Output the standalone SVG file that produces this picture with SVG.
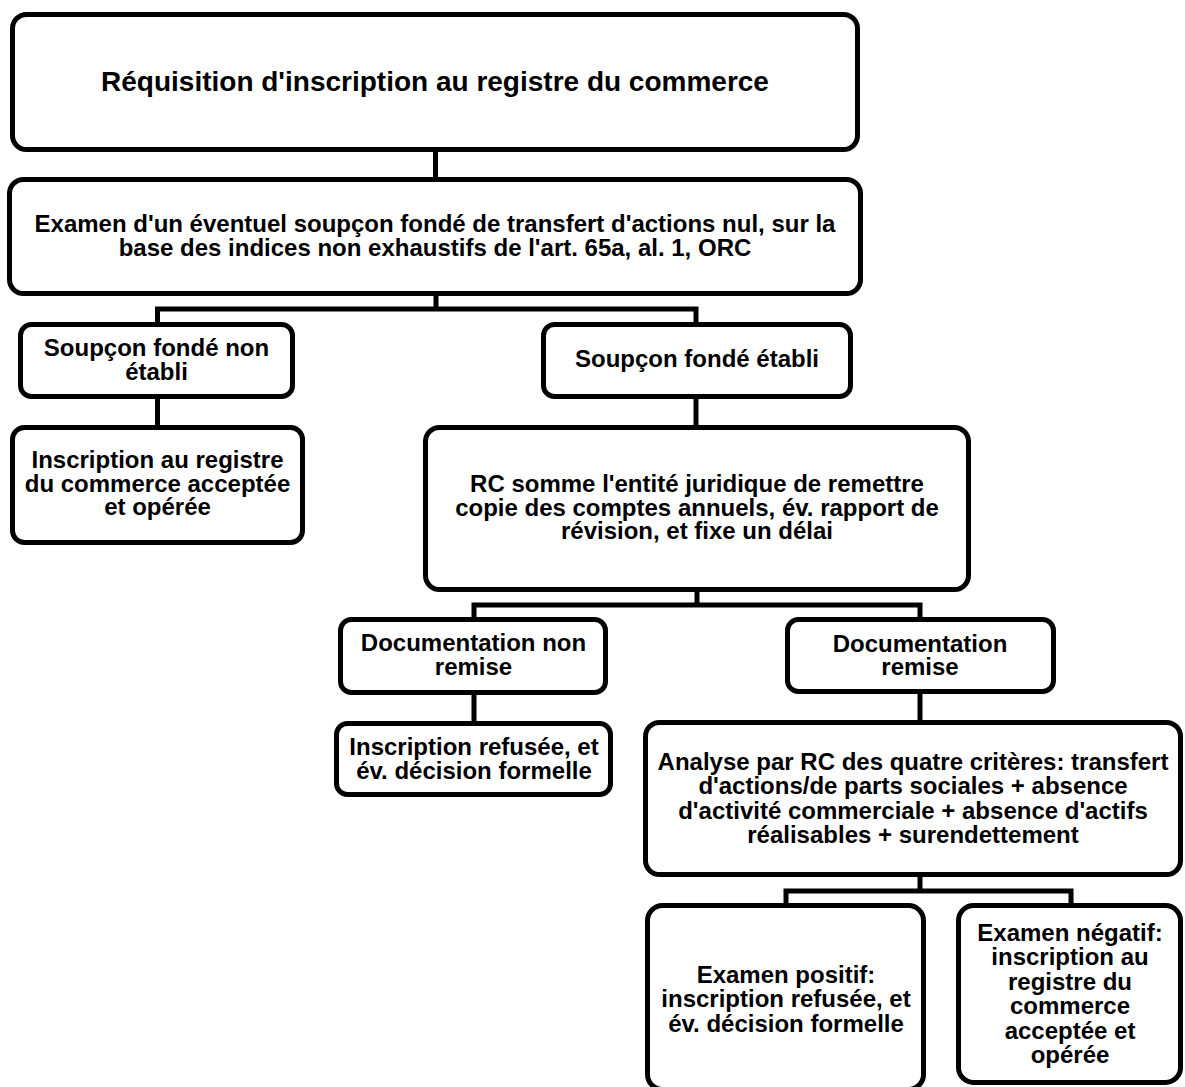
<svg xmlns="http://www.w3.org/2000/svg" width="1185" height="1087" viewBox="0 0 1185 1087">
  <style>
    .box { fill: #ffffff; stroke: #000000; stroke-width: 5; }
    .link { fill: none; stroke: #000000; stroke-width: 5; stroke-linejoin: miter; }
    .t { font-family: "Liberation Sans", Arial, Helvetica, sans-serif; font-weight: bold; font-size: 24px; fill: #000000; text-anchor: middle; }
    .title { font-size: 28px; }
  </style>
  <rect width="1185" height="1087" fill="#ffffff"/>

  <!-- tree connectors (drawn first, boxes sit on top) -->
  <g id="connectors">
    <path class="link" d="M435.5,150 V180"/>
    <path class="link" d="M436,294 V309"/>
    <path class="link" d="M157.5,324 V309 H696 V324"/>
    <path class="link" d="M157.5,397 V428"/>
    <path class="link" d="M696,397 V428"/>
    <path class="link" d="M697,590 V605"/>
    <path class="link" d="M474,620 V605 H920 V620"/>
    <path class="link" d="M474,693 V724"/>
    <path class="link" d="M920,692 V723"/>
    <path class="link" d="M920,875 V891"/>
    <path class="link" d="M786,905 V891 H1071 V905"/>
  </g>

  <g id="requisition">
    <rect class="box" x="12.5" y="14.5" width="845" height="135" rx="14"/>
    <text class="t title" x="435" y="91">Réquisition d'inscription au registre du commerce</text>
  </g>

  <g id="examen-soupcon">
    <rect class="box" x="9.5" y="179.5" width="851" height="114" rx="14"/>
    <text class="t" x="435" y="232">Examen d'un éventuel soupçon fondé de transfert d'actions nul, sur la</text>
    <text class="t" x="435" y="256">base des indices non exhaustifs de l'art. 65a, al. 1, ORC</text>
  </g>

  <g id="soupcon-non-etabli">
    <rect class="box" x="20.5" y="324.5" width="272" height="72" rx="11"/>
    <text class="t" x="156.5" y="356">Soupçon fondé non</text>
    <text class="t" x="156.5" y="379.5">établi</text>
  </g>

  <g id="soupcon-etabli">
    <rect class="box" x="543.5" y="324.5" width="307" height="72" rx="11"/>
    <text class="t" x="697" y="367">Soupçon fondé établi</text>
  </g>

  <g id="inscription-acceptee">
    <rect class="box" x="12.5" y="427.5" width="290" height="115" rx="12"/>
    <text class="t" x="157.5" y="468">Inscription au registre</text>
    <text class="t" x="157.5" y="491.7">du commerce acceptée</text>
    <text class="t" x="157.5" y="515.4">et opérée</text>
  </g>

  <g id="sommation-rc">
    <rect class="box" x="425.5" y="427.5" width="543" height="162" rx="14"/>
    <text class="t" x="697" y="492">RC somme l'entité juridique de remettre</text>
    <text class="t" x="697" y="515.5">copie des comptes annuels, év. rapport de</text>
    <text class="t" x="697" y="539">révision, et fixe un délai</text>
  </g>

  <g id="documentation-non-remise">
    <rect class="box" x="340.5" y="619.5" width="265" height="73" rx="11"/>
    <text class="t" x="473.5" y="651">Documentation non</text>
    <text class="t" x="473.5" y="675">remise</text>
  </g>

  <g id="documentation-remise">
    <rect class="box" x="787.5" y="619.5" width="266" height="72" rx="11"/>
    <text class="t" x="920" y="651.5">Documentation</text>
    <text class="t" x="920" y="675">remise</text>
  </g>

  <g id="inscription-refusee">
    <rect class="box" x="336.5" y="723.5" width="274" height="71" rx="11"/>
    <text class="t" x="474" y="755">Inscription refusée, et</text>
    <text class="t" x="474" y="778.5">év. décision formelle</text>
  </g>

  <g id="analyse-criteres">
    <rect class="box" x="645.5" y="722.5" width="535" height="152" rx="14"/>
    <text class="t" x="913" y="770">Analyse par RC des quatre critères: transfert</text>
    <text class="t" x="913" y="794.3">d'actions/de parts sociales + absence</text>
    <text class="t" x="913" y="818.6">d'activité commerciale + absence d'actifs</text>
    <text class="t" x="913" y="843">réalisables + surendettement</text>
  </g>

  <g id="examen-positif">
    <rect class="box" x="647.5" y="905.5" width="276" height="184" rx="15"/>
    <text class="t" x="786" y="983">Examen positif:</text>
    <text class="t" x="786" y="1007.3">inscription refusée, et</text>
    <text class="t" x="786" y="1031.6">év. décision formelle</text>
  </g>

  <g id="examen-negatif">
    <rect class="box" x="958.5" y="905.5" width="222" height="177" rx="15"/>
    <text class="t" x="1070" y="941">Examen négatif:</text>
    <text class="t" x="1070" y="965.4">inscription au</text>
    <text class="t" x="1070" y="989.8">registre du</text>
    <text class="t" x="1070" y="1014.2">commerce</text>
    <text class="t" x="1070" y="1038.6">acceptée et</text>
    <text class="t" x="1070" y="1063">opérée</text>
  </g>
</svg>
